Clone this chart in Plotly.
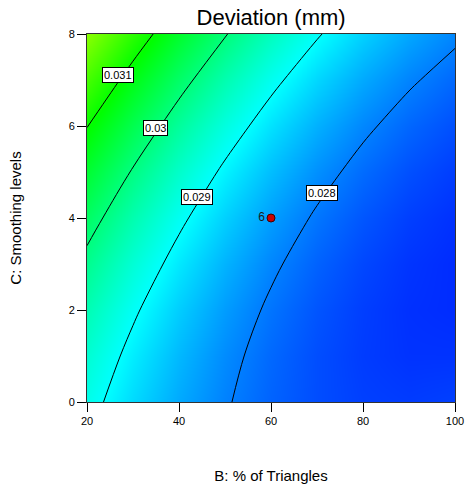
import plotly.graph_objects as go

# ---- data ----
b_values = [20, 30, 40, 50, 60, 70, 80, 90, 100]   # B: % of Triangles
c_values = [0, 1, 2, 3, 4, 5, 6, 7, 8]             # C: Smoothing levels
# Deviation (mm) surface, rows follow c_values, columns follow b_values
deviation = [
    [0.029159, 0.028716, 0.028342, 0.028036, 0.027798, 0.027629, 0.027528, 0.027496, 0.027532],
    [0.029346, 0.028867, 0.028457, 0.028114, 0.027840, 0.027635, 0.027498, 0.027429, 0.027429],
    [0.029582, 0.029067, 0.028620, 0.028242, 0.027932, 0.027690, 0.027516, 0.027411, 0.027375],
    [0.029867, 0.029316, 0.028833, 0.028418, 0.028071, 0.027793, 0.027584, 0.027442, 0.027370],
    [0.030201, 0.029613, 0.029094, 0.028643, 0.028260, 0.027946, 0.027700, 0.027522, 0.027413],
    [0.030584, 0.029959, 0.029404, 0.028916, 0.028497, 0.028147, 0.027865, 0.027651, 0.027505],
    [0.031015, 0.030354, 0.029762, 0.029239, 0.028784, 0.028397, 0.028078, 0.027828, 0.027646],
    [0.031495, 0.030798, 0.030170, 0.029610, 0.029118, 0.028695, 0.028340, 0.028054, 0.027836],
    [0.032024, 0.031291, 0.030626, 0.030030, 0.029502, 0.029043, 0.028652, 0.028329, 0.028075],
]
contour_levels = [0.028, 0.029, 0.030, 0.031]
contour_label_text = ["0.028", "0.029", "0.03", "0.031"]
design_b = [60]
design_c = [4]
design_label = ["6"]
x_ticks = [20, 40, 60, 80, 100]
y_ticks = [0, 2, 4, 6, 8]

# label placement (layout, not data)
label_pos = {"0.028": (71.1, 4.54), "0.029": (43.9, 4.46),
             "0.03": (34.8, 5.96), "0.031": (26.7, 7.1)}

FONT = "Arial, Liberation Sans, sans-serif"

colorscale = [
    [0.0, "rgb(0,0,255)"],
    [0.25, "rgb(0,255,255)"],
    [0.5, "rgb(0,255,0)"],
    [0.75, "rgb(255,255,0)"],
    [1.0, "rgb(255,0,0)"],
]

fig = go.Figure()
fig.add_trace(go.Heatmap(
    x=b_values, y=c_values, z=deviation,
    zsmooth="best", colorscale=colorscale,
    zmin=0.02704, zmax=0.03488, showscale=False, hoverinfo="skip",
))
fig.add_trace(go.Contour(
    x=b_values, y=c_values, z=deviation,
    contours=dict(start=contour_levels[0], end=contour_levels[-1],
                  size=0.001, coloring="none", showlabels=False),
    line=dict(color="black", width=1, smoothing=1.0),
    showscale=False, hoverinfo="skip",
))
fig.add_trace(go.Scatter(
    x=design_b, y=design_c, mode="markers+text",
    text=design_label, textposition="middle left",
    textfont=dict(family=FONT, size=12, color="#1a1a1a"),
    marker=dict(color="#cc0000", size=8, line=dict(color="#400000", width=1)),
    showlegend=False, hoverinfo="skip",
))

for txt in contour_label_text:
    xx, yy = label_pos[txt]
    fig.add_annotation(
        x=xx, y=yy, text=txt, showarrow=False,
        font=dict(family=FONT, size=11, color="black"),
        bgcolor="white", bordercolor="black", borderwidth=1, borderpad=1,
    )

fig.update_layout(
    width=465, height=488,
    margin=dict(l=87, r=10, t=34, b=86, autoexpand=False),
    paper_bgcolor="white", plot_bgcolor="white",
    showlegend=False,
    title=dict(text="Deviation (mm)", x=0.583, xanchor="center",
               y=0.964, yanchor="middle", automargin=False,
               font=dict(family=FONT, size=22, color="black")),
    font=dict(family=FONT, size=11, color="black"),
)
fig.update_xaxes(
    range=[20, 100], tickvals=x_ticks, ticks="outside", ticklen=9,
    tickcolor="black", linecolor="#333", linewidth=1, mirror=True,
    showgrid=False, zeroline=False, automargin=False,
    tickfont=dict(family=FONT, size=11, color="black"),
    title=dict(text="B: % of Triangles", standoff=44,
               font=dict(family=FONT, size=15, color="black")),
)
fig.update_yaxes(
    range=[0, 8], tickvals=y_ticks, ticks="outside", ticklen=9,
    tickcolor="black", linecolor="#333", linewidth=1, mirror=True,
    showgrid=False, zeroline=False, automargin=False,
    tickfont=dict(family=FONT, size=11, color="black"),
    title=dict(text="C: Smoothing levels", standoff=43,
               font=dict(family=FONT, size=15, color="black")),
)

fig.write_html("out.html",
               config={"displayModeBar": False},
               post_script="document.body.style.margin='0';document.body.style.overflow='hidden';")
